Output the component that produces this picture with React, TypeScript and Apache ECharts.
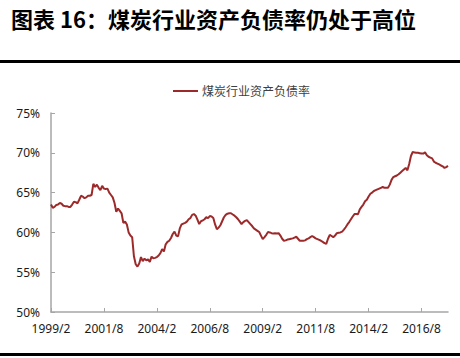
import React, { useEffect, useRef } from "react";
import * as echarts from "echarts";

const titleText = "图表 16：煤炭行业资产负债率仍处于高位";
const seriesName = "煤炭行业资产负债率";
const startYear = 1999;
const startMonth = 2;
const yTicks = [50, 55, 60, 65, 70, 75];

// Monthly values (%), starting 1999/2
const debtRatio = [
  63.5, 63.1, 63.2, 63.45, 63.5, 63.7, 63.6, 63.35, 63.3, 63.3,
  63.2, 63.2, 63.5, 63.85, 63.8, 63.65, 64.1, 64.6, 64.5, 64.3,
  64.4, 64.6, 64.6, 64.7, 66.1, 65.7, 66.0, 65.6, 65.3, 65.85,
  65.5, 65.45, 65.5, 65.0, 64.7, 64.4, 63.7, 62.6, 63.0, 62.7,
  62.4, 61.2, 61.35, 61.0, 60.0, 59.6, 59.4, 57.0, 56.0, 55.7,
  56.1, 56.9, 56.4, 56.7, 56.5, 56.6, 56.3, 56.95, 56.75, 56.8,
  56.9, 57.1, 57.4, 57.9, 57.6, 58.5, 58.8, 58.95, 59.3, 59.8,
  60.1, 59.6, 59.5, 60.5, 61.0, 61.1, 61.2, 61.35, 61.65, 61.8,
  62.2, 62.3, 62.1, 61.6, 61.05, 61.4, 61.5, 61.65, 61.9, 61.8,
  62.05, 62.0, 61.8, 61.0, 60.4, 60.6, 60.9, 61.4, 61.9, 62.2,
  62.35, 62.4, 62.4, 62.25, 62.1, 61.9, 61.65, 61.35, 61.05, 61.3,
  61.45, 61.55, 61.3, 61.05, 60.8, 60.5, 60.35, 60.2, 60.05, 59.6,
  59.15, 59.4, 59.7, 60.05, 60.0, 59.9, 59.85, 59.9, 59.85, 59.9,
  59.6, 59.2, 58.95, 59.0, 59.1, 59.15, 59.2, 59.25, 59.35, 59.45,
  59.2, 58.95, 58.95, 58.95, 59.0, 59.15, 59.25, 59.4, 59.55, 59.4,
  59.25, 59.15, 59.05, 58.95, 58.8, 58.65, 58.55, 59.2, 59.7, 59.55,
  59.4, 59.6, 59.9, 59.95, 60.0, 60.1, 60.35, 60.65, 61.0, 61.3,
  61.65, 62.0, 62.3, 62.3, 62.28, 62.9, 63.2, 63.5, 63.9, 64.1,
  64.5, 64.85, 65.0, 65.2, 65.3, 65.4, 65.5, 65.6, 65.7, 65.6,
  65.6, 65.6, 66.0, 66.6, 66.95, 67.05, 67.15, 67.3, 67.5, 67.7,
  67.9, 68.1, 67.8, 68.6, 69.6, 70.1, 70.05, 70.0, 70.0, 69.95,
  69.9, 69.9, 70.05, 69.7, 69.5, 69.4, 69.3, 68.9, 68.75, 68.65,
  68.55, 68.4, 68.3, 68.1, 68.2, 68.35,
];

const months: string[] = debtRatio.map((_, i) => {
  const t = startMonth - 1 + i;
  return `${startYear + Math.floor(t / 12)}/${(t % 12) + 1}`;
});

export default function App() {
  const ref = useRef<HTMLDivElement>(null);
  useEffect(() => {
    if (!ref.current) return;
    const chart = echarts.init(ref.current, undefined, { renderer: "svg" });
    const font = "'Noto Sans', 'Noto Sans CJK SC', sans-serif";
    chart.setOption({
      animation: false,
      backgroundColor: "#ffffff",
      title: {
        text: titleText,
        left: 6,
        top: 2,
        textStyle: {
          fontSize: 22,
          fontWeight: "bold",
          color: "#000",
          fontFamily: "'Noto Sans CJK SC', sans-serif",
        },
      },
      graphic: [
        { type: "rect", shape: { x: 0, y: 60, width: 460, height: 3 }, style: { fill: "#000" } },
        { type: "rect", shape: { x: 0, y: 353, width: 460, height: 3 }, style: { fill: "#000" } },
      ],
      legend: {
        left: 168,
        top: 80,
        icon: "rect",
        itemWidth: 25,
        itemHeight: 2,
        itemGap: 4,
        textStyle: { fontSize: 12, color: "#404040", fontFamily: font, padding: [0, 0, 0, -1] },
        data: [seriesName],
      },
      grid: { left: 51, right: 12, top: 113, bottom: 46 },
      xAxis: {
        type: "category",
        data: months,
        boundaryGap: false,
        axisLine: { lineStyle: { color: "#a6a6a6", width: 1.5 } },
        axisTick: { inside: true, length: 4, interval: 29, lineStyle: { color: "#a6a6a6" } },
        axisLabel: {
          interval: 29,
          margin: 10,
          fontSize: 12,
          color: "#1a1a1a",
          fontFamily: font,
        },
        splitLine: { show: false },
      },
      yAxis: {
        type: "value",
        min: yTicks[0],
        max: yTicks[yTicks.length - 1],
        interval: 5,
        axisLine: { show: true, lineStyle: { color: "#a6a6a6", width: 1.5 } },
        axisTick: { show: true, inside: true, length: 4, lineStyle: { color: "#a6a6a6" } },
        axisLabel: {
          formatter: "{value}%",
          margin: 11,
          fontSize: 12,
          color: "#1a1a1a",
          fontFamily: font,
        },
        splitLine: { show: false },
      },
      series: [
        {
          name: seriesName,
          type: "line",
          data: debtRatio,
          showSymbol: false,
          symbol: "none",
          color: "#9c2a2b",
          lineStyle: { width: 2, color: "#9c2a2b" },
        },
      ],
    });
    return () => chart.dispose();
  }, []);
  return (
    <div
      ref={ref}
      style={{ position: "fixed", left: 0, top: 0, width: 460, height: 358 }}
    />
  );
}
